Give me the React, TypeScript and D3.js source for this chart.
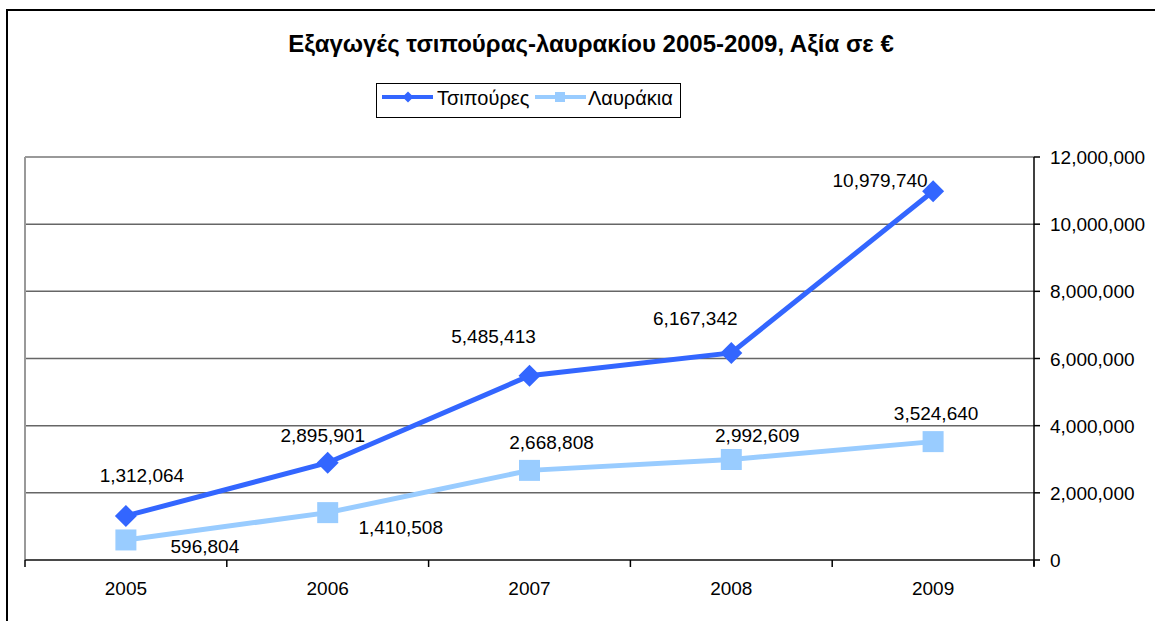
import React from "react";
import * as d3 from "d3";

const years = ["2005", "2006", "2007", "2008", "2009"];
const tsipoures = [1312064, 2895901, 5485413, 6167342, 10979740];
const lavrakia = [596804, 1410508, 2668808, 2992609, 3524640];
const yTicks = [0, 2000000, 4000000, 6000000, 8000000, 10000000, 12000000];
const seriesNames = ["Τσιπούρες", "Λαυράκια"];
const title = "Εξαγωγές τσιπούρας-λαυρακίου 2005-2009, Αξία σε €";

// label offsets (dx to text centre, dy to baseline) relative to each point
const offA = [[16, -34], [-5, -21], [-36, -33], [-36, -28], [-53, -4]];
const offB = [[79, 13], [73, 21], [22, -21], [26, -17], [3, -22]];

const W = 1155, H = 621;
const plot = { left: 25, right: 1034, top: 157, bottom: 560 };
const font = "'Liberation Sans', Arial, sans-serif";
const cA = "#3366FF", cB = "#99CCFF";
const fs = 19;

export default function App() {
  const x = d3.scaleBand().domain(years).range([plot.left, plot.right]);
  const y = d3.scaleLinear().domain([0, 12000000]).range([plot.bottom, plot.top]);
  const cx = (i: number) => (x(years[i]) as number) + x.bandwidth() / 2;
  const line = d3.line<number>().x((_, i) => cx(i)).y((d) => y(d));
  const fmt = d3.format(",");
  const diamond = (px: number, py: number, rx: number, ry: number) =>
    `M${px},${py - ry}L${px + rx},${py}L${px},${py + ry}L${px - rx},${py}Z`;

  return (
    <svg width={W} height={H} style={{ position: "absolute", left: 0, top: 0 }} fontFamily={font}>
      <rect x={0} y={0} width={W} height={H} fill="#fff" />
      <rect x={7} y={10} width={W + 20} height={H + 20} fill="none" stroke="#000" strokeWidth={2} />
      <text x={591} y={52} textAnchor="middle" fontSize={24} fontWeight="bold">{title}</text>

      {/* legend */}
      <rect x={376.5} y={83.5} width={304} height={34} fill="#fff" stroke="#000" strokeWidth={1} />
      <line x1={382} x2={433} y1={97} y2={97} stroke={cA} strokeWidth={4} />
      <path d={diamond(408, 97, 5.5, 5.5)} fill={cA} />
      <text x={437} y={105} fontSize={20}>{seriesNames[0]}</text>
      <line x1={535} x2={586} y1={97} y2={97} stroke={cB} strokeWidth={4} />
      <rect x={555} y={92} width={10} height={10} fill={cB} />
      <text x={588} y={105} fontSize={20}>{seriesNames[1]}</text>

      {/* gridlines */}
      {yTicks.map((t) => (
        <line key={t} x1={plot.left} x2={plot.right} y1={y(t)} y2={y(t)} stroke="#666" strokeWidth={1.5} />
      ))}
      <line x1={plot.left} x2={plot.left} y1={plot.top} y2={plot.bottom} stroke="#999" strokeWidth={2} />
      <line x1={plot.left} x2={plot.right} y1={plot.top} y2={plot.top} stroke="#999" strokeWidth={2} />
      <line x1={plot.left} x2={plot.right} y1={plot.bottom} y2={plot.bottom} stroke="#333" strokeWidth={1.5} />
      <line x1={plot.right} x2={plot.right} y1={plot.top} y2={plot.bottom + 6} stroke="#000" strokeWidth={1.5} />
      {yTicks.map((t) => (
        <g key={"yt" + t}>
          <line x1={plot.right} x2={plot.right + 6} y1={y(t)} y2={y(t)} stroke="#000" strokeWidth={1.5} />
          <text x={plot.right + 16} y={y(t) + 7} fontSize={fs}>{fmt(t)}</text>
        </g>
      ))}
      {years.map((yr, i) => (
        <g key={yr}>
          <line x1={x(yr) as number} x2={x(yr) as number} y1={plot.bottom} y2={plot.bottom + 7} stroke="#000" strokeWidth={1.5} />
          <text x={cx(i)} y={595} textAnchor="middle" fontSize={fs}>{yr}</text>
        </g>
      ))}
      <line x1={plot.right} x2={plot.right} y1={plot.bottom} y2={plot.bottom + 7} stroke="#000" strokeWidth={1.5} />

      {/* series B */}
      <path d={line(lavrakia) as string} fill="none" stroke={cB} strokeWidth={5} />
      {lavrakia.map((v, i) => (
        <rect key={i} x={cx(i) - 10.5} y={y(v) - 10.5} width={21} height={21} fill={cB} />
      ))}
      {/* series A */}
      <path d={line(tsipoures) as string} fill="none" stroke={cA} strokeWidth={5} />
      {tsipoures.map((v, i) => (
        <path key={i} d={diamond(cx(i), y(v), 11, 11)} fill={cA} />
      ))}

      {tsipoures.map((v, i) => (
        <text key={"la" + i} x={cx(i) + offA[i][0]} y={y(v) + offA[i][1]} textAnchor="middle" fontSize={fs}>{fmt(v)}</text>
      ))}
      {lavrakia.map((v, i) => (
        <text key={"lb" + i} x={cx(i) + offB[i][0]} y={y(v) + offB[i][1]} textAnchor="middle" fontSize={fs}>{fmt(v)}</text>
      ))}
    </svg>
  );
}
